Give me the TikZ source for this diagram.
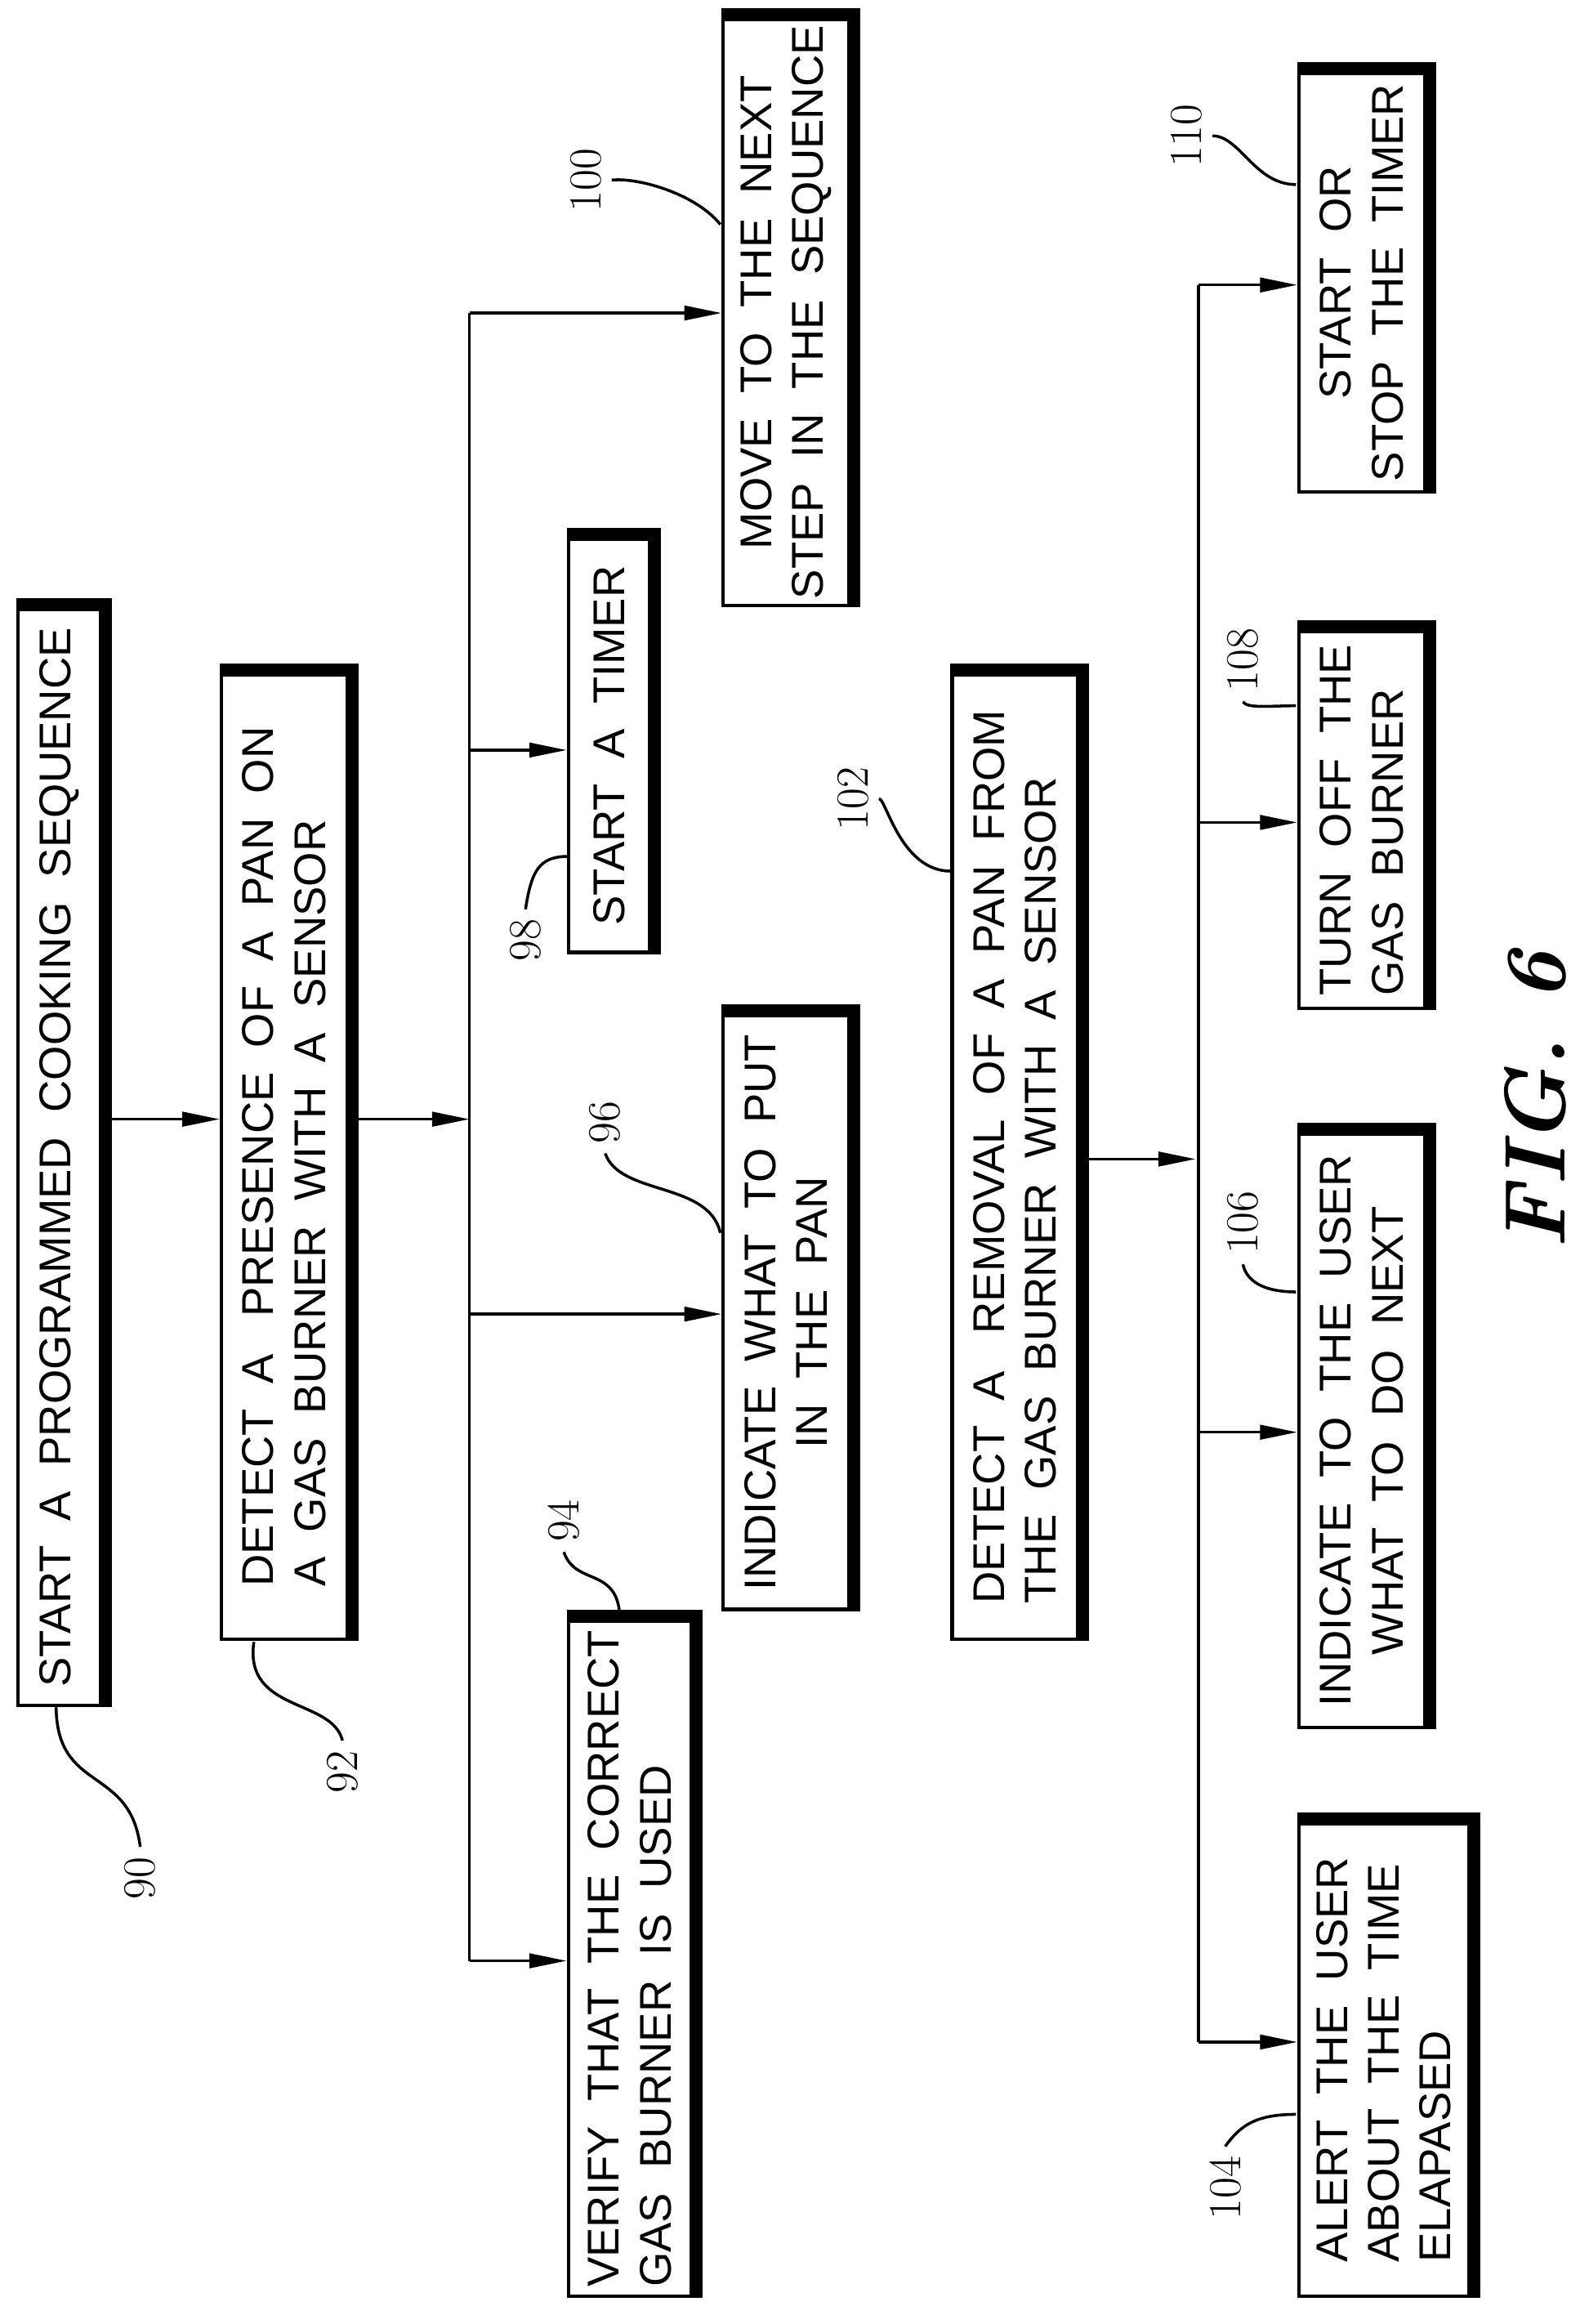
\documentclass[tikz,border=0pt]{standalone}
\usepackage{fontspec}
\setsansfont{Liberation Sans}
\usetikzlibrary{positioning,arrows.meta}
\def\u{0.01807cm}
\tikzset{
	step/.style={%
		draw, line width=1.2pt, rotate=90, inner sep=2pt,
		font=\sffamily\fontsize{15.5}{18}\selectfont,
		minimum width=#1*\u
	},
	step/.default=300,
	num/.style={rotate=90, font=\fontsize{16}{19}\selectfont},
	lead/.style={line width=1pt},
	arr/.style={line width=1pt, -{Triangle[length=13pt,width=5pt]}},
	line/.style={line width=1pt}
}
\begin{document}
\begin{tikzpicture}[x=\u, y=-\u]
		\useasboundingbox (0,0) rectangle (1070,1574);
		
		% boxes
		\node[step=742, minimum height=56*\u, align=left] (start) at (40,784) {START\ \ A\ \ PROGRAMMED\ \ COOKING\ \ SEQUENCE};
		\node[step=653, minimum height=85*\u, align=left] (detect) at (192.5,783.5) {DETECT\ \ A\ \ \ PRESENCE\ \ OF\ \ A\ \ PAN\ \ ON\\A\ \ GAS\ \ BURNER\ \ WITH\ \ A\ \ SENSOR};
		\node[step=457, minimum height=83*\u, align=left] (verify) at (426.5,1326.5) {VERIFY\ \ THAT\ \ THE\ \ CORRECT\\GAS\ \ BURNER\ \ IS\ \ USED};
		\node[step=402, minimum height=85*\u, align=center] (indicate) at (532.5,889) {INDICATE\ \ WHAT\ \ TO\ \ PUT\\IN\ \ THE\ \ PAN};
		\node[step=280, minimum height=55*\u] (timer) at (412.5,505) {START\ \ A\ \ TIMER};
		\node[step=397, minimum height=85*\u, align=center] (next) at (532.5,211.5) {MOVE\ \ TO\ \ THE\ \ NEXT\\STEP\ \ IN\ \ THE\ \ SEQUENCE};
		\node[step=653, minimum height=85*\u, align=left] (removal) at (687.5,783.5) {DETECT\ \ A\ \ \ REMOVAL\ \ OF\ \ A\ \ PAN\ \ FROM\\THE\ \ GAS\ \ BURNER\ \ WITH\ \ A\ \ SENSOR};
		\node[step=320, minimum height=115*\u, align=left] (alert) at (937.5,1395) {ALERT\ \ THE\ \ USER\\ABOUT\ \ THE\ \ TIME\\ELAPASED};
		\node[step=402, minimum height=85*\u, align=center] (user) at (922.5,969) {INDICATE\ \ TO\ \ THE\ \ USER\\WHAT\ \ TO\ \ DO\ \ NEXT};
		\node[step=255, minimum height=85*\u, align=left] (off) at (922.5,555.5) {TURN\ \ OFF\ \ THE\\GAS\ \ BURNER};
		\node[step=283, minimum height=85*\u, align=center] (stop) at (922.5,191.5) {START\ \ OR\\STOP\ \ THE\ \ TIMER};
		
		% heavy edges on top and right
		\foreach \n in {start,detect,verify,indicate,timer,next,removal,alert,user,off,stop}
			\draw[line width=3.5pt] ([xshift=1.6pt]\n.south west) -- ([xshift=1.6pt,yshift=1.6pt]\n.south east) -- ([yshift=1.6pt]\n.north east);
		
		% first trunk
		\draw[arr] (start.south |- 0,758) -- (detect.north |- 0,758);
		\draw[arr] (detect.south |- 0,758) -- (318,758);
		\draw[line] (318,212) -- (318,1328);
		\foreach \n/\y in {verify/1328, indicate/890, timer/508, next/212}
			\draw[arr] (318,\y) -- (\n.north |- 0,\y);
		
		% second trunk
		\draw[arr] (removal.south |- 0,785) -- (810,785);
		\draw[line] (812,193) -- (812,1383);
		\foreach \n/\y in {alert/1383, user/970, off/557, stop/193}
			\draw[arr] (812,\y) -- (\n.north |- 0,\y);
		
		% reference numerals
		\node[num] (n90) at (95,1272) {90};
		\draw[lead] (38,1155) .. controls (38,1215) and (88,1195) .. (n90.east);
		\node[num] (n92) at (232,1200) {92};
		\draw[lead] (172,1112) .. controls (165,1160) and (225,1150) .. (n92.east);
		\node[num] (n94) at (382,1030) {94};
		\draw[lead] (n94.west) .. controls (390,1075) and (420,1060) .. (420,1098);
		\node[num] (n96) at (410,760) {96};
		\draw[lead] (n96.west) .. controls (420,810) and (480,800) .. (488,835);
		\node[num] (n98) at (356,637) {98};
		\draw[lead] (n98.east) .. controls (360,590) and (365,580) .. (385,580);
		\node[num] (n100) at (397,122) {100};
		\draw[lead] (n100.south) .. controls (430,120) and (470,130) .. (488,152);
		\node[num] (n102) at (578,541) {102};
		\draw[lead] (n102.south) .. controls (600,540) and (610,590) .. (644,590);
		\node[num] (n104) at (830,1482) {104};
		\draw[lead] (n104.east) .. controls (840,1440) and (850,1432) .. (878,1432);
		\node[num] (n106) at (842,828) {106};
		\draw[lead] (n106.west) .. controls (845,870) and (860,875) .. (878,875);
		\node[num] (n108) at (842,447) {108};
		\draw[lead] (n108.west) .. controls (845,480) and (860,478) .. (878,478);
		\node[num] (n110) at (804,92) {110};
		\draw[lead] (n110.south) .. controls (840,92) and (850,125) .. (878,125);
		
		% figure title
		\node[rotate=90, font=\bfseries\itshape\fontsize{30}{34}\selectfont] (fig) at (1040,745) {FIG. 6};
		
\end{tikzpicture}
\end{document}
